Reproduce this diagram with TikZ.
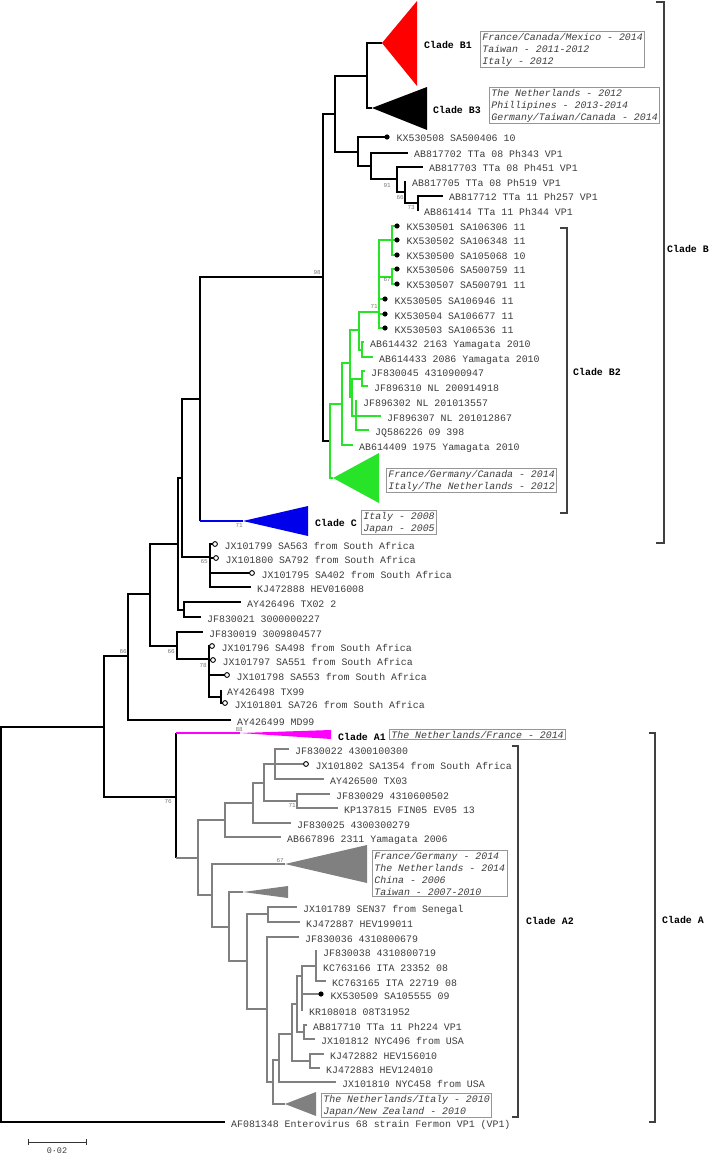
\documentclass[tikz,border=0pt]{standalone}
\usepackage{fontspec}
\setmonofont{Liberation Mono}
\usepackage{tikz}
\usetikzlibrary{positioning,calc}
\definecolor{cladered}{RGB}{255,0,0}
\definecolor{cladegreen}{RGB}{40,228,40}
\definecolor{cladeblue}{RGB}{0,0,235}
\definecolor{cladepink}{RGB}{255,0,255}
\definecolor{cladegray}{RGB}{128,128,128}
\definecolor{leafgray}{RGB}{60,60,60}
\definecolor{boxgray}{RGB}{150,150,150}
\definecolor{bootgray}{RGB}{120,120,120}

\begin{document}
\begin{tikzpicture}[x=1pt,y=-1pt,
  br/.style={line width=1.3pt, black},
  gbr/.style={line width=1.3pt, cladegreen},
  abr/.style={line width=1.3pt, cladegray},
  brk/.style={line width=1.1pt, black!75},
  leaf/.style={font=\ttfamily\fontsize{9.9}{12}\selectfont, text=leafgray, inner sep=0pt, text height=6pt, text depth=0pt, yshift=-2pt},
  clade/.style={font=\ttfamily\bfseries\fontsize{9.9}{12}\selectfont, inner sep=0pt, anchor=west, text height=6pt, text depth=0pt},
  box/.style={draw=boxgray, line width=0.8pt, font=\ttfamily\itshape\fontsize{9.9}{12}\selectfont, text=leafgray, align=left, inner xsep=2pt, inner ysep=1.5pt, anchor=north west},
  boot/.style={font=\ttfamily\fontsize{6}{7}\selectfont, text=bootgray, inner sep=0pt, anchor=east},
  odot/.style={draw=black, fill=white, line width=0.9pt}
]
\useasboundingbox (0,0) rectangle (709,1155);

\coordinate (root) at (1,925);
\coordinate (ingrp) at (104,727);
\coordinate (bc) at (128,656);
\coordinate (bcx) at (150,594);
\coordinate (bcy) at (178,544);
\coordinate (bcz) at (182,478);
\coordinate (bcc) at (200,399);
\coordinate (b98) at (323,277);
\coordinate (btop) at (335,114);
\coordinate (b13) at (367,76);
\coordinate (btta) at (358,152);
\coordinate (btta2) at (371,166);
\coordinate (btta3) at (397,179);
\coordinate (b66a) at (405,192);
\coordinate (b73) at (418,203);
\coordinate (b2root) at (330,441);
\coordinate (b2a) at (342,404);
\coordinate (b2b) at (350,363);
\coordinate (b2c) at (359,330);
\coordinate (b71) at (379,312);
\coordinate (b2t) at (392,240);
\coordinate (b67) at (392,277);
\coordinate (b2y) at (362,350);
\coordinate (b2d) at (352,397);
\coordinate (b2e) at (362,379);
\coordinate (b2f) at (356,416);
\coordinate (b65) at (210,557);
\coordinate (bay) at (184,610);
\coordinate (b66) at (177,646);
\coordinate (b78) at (209,659);
\coordinate (btx) at (221,697);
\coordinate (cladeA) at (176,797);
\coordinate (a2) at (198,858);
\coordinate (a2u) at (225,820);
\coordinate (a2w) at (253,803);
\coordinate (a2x) at (264,783);
\coordinate (a2g) at (275,764);
\coordinate (a71) at (297,801);
\coordinate (a2v) at (212,895);
\coordinate (a2s) at (229,927);
\coordinate (a2t) at (247,961);
\coordinate (a2sen) at (268,914);
\coordinate (a2j) at (267,1009);
\coordinate (a2k) at (273,1082);
\coordinate (a2m) at (279,1060);
\coordinate (a2n) at (292,1034);
\coordinate (a2o) at (297,1004);
\coordinate (a2p) at (302,976);
\coordinate (a2q) at (316,966);
\coordinate (a2ab) at (304,1032);
\coordinate (a2kj) at (310,1061);

\coordinate (b1apex) at (382,43);
\coordinate (b3apex) at (372,108);
\coordinate (b2apex) at (333,478);
\coordinate (capex) at (243,521);
\coordinate (a1apex) at (240,733);
\coordinate (a67apex) at (285,864);
\coordinate (asapex) at (243,892);
\coordinate (a2apex) at (285,1104);

\coordinate (t508) at (387,137);
\coordinate (t702) at (408,153);
\coordinate (t703) at (423,167);
\coordinate (t705) at (406,182);
\coordinate (t712) at (443,196);
\coordinate (t414) at (418,211);
\coordinate (t501) at (397,226);
\coordinate (t502) at (397,240);
\coordinate (t500) at (397,255);
\coordinate (t506) at (397,269);
\coordinate (t507) at (397,284);
\coordinate (t505) at (385,299);
\coordinate (t504) at (385,314);
\coordinate (t503) at (385,328);
\coordinate (t432) at (364,342);
\coordinate (t433) at (373,357);
\coordinate (t045) at (365,371);
\coordinate (t310) at (368,386);
\coordinate (t302) at (357,401);
\coordinate (t307) at (381,416);
\coordinate (t226) at (369,430);
\coordinate (t409) at (353,445);
\coordinate (t799) at (215,544);
\coordinate (t800) at (216,558);
\coordinate (t795) at (252,573);
\coordinate (t888) at (251,587);
\coordinate (t496) at (241,602);
\coordinate (t021) at (201,617);
\coordinate (t019) at (203,632);
\coordinate (t796) at (212,646);
\coordinate (t797) at (213,660);
\coordinate (t798) at (227,675);
\coordinate (t498) at (221,690);
\coordinate (t801) at (225,703);
\coordinate (tmd99) at (231,720);
\coordinate (taf) at (225,1122);
\coordinate (t022) at (289,749);
\coordinate (t802) at (306,764);
\coordinate (t500a) at (324,779);
\coordinate (t029) at (330,794);
\coordinate (t815) at (338,808);
\coordinate (t025) at (291,823);
\coordinate (t896) at (281,837);
\coordinate (t789) at (297,907);
\coordinate (t887) at (300,922);
\coordinate (t036) at (299,937);
\coordinate (t038) at (317,951);
\coordinate (t166) at (317,966);
\coordinate (t165) at (326,981);
\coordinate (t509) at (321,994);
\coordinate (t018) at (303,1010);
\coordinate (t710) at (307,1025);
\coordinate (t812) at (315,1039);
\coordinate (t882) at (324,1054);
\coordinate (t883) at (320,1068);
\coordinate (t810) at (336,1082);

\draw[br] (root) |- (ingrp) (root) |- (taf);
\draw[br] (ingrp) |- (bc) (ingrp) |- (cladeA);
\draw[br] (bc) |- (bcx) (bc) |- (tmd99);
\draw[br] (bcx) |- (bcy) (bcx) |- (b66);
\draw[br] (bcy) |- (bcz) (bcy) |- (bay);
\draw[br] (bcz) |- (bcc) (bcz) |- (b65);
\draw[br] (bcc) |- (b98) (bcc) -- (bcc |- capex);
\draw[br, cladeblue] (bcc |- capex) -- (capex);
\draw[br] (b98) |- (btop) (b98) |- (b2root);
\draw[br] (btop) |- (b13) (btop) |- (btta);
\draw[br] (b13) |- (b1apex) (b13) |- (b3apex);
\draw[br] (btta) |- (t508) (btta) |- (btta2);
\draw[br] (btta2) |- (t702) (btta2) |- (btta3);
\draw[br] (btta3) |- (t703) (btta3) |- (b66a);
\draw[br] (b66a) |- (t705) (b66a) |- (b73);
\draw[br] (b73) |- (t712) (b73) |- (t414);
\draw[br] (b65) |- (t799) (b65) |- (t800) (b65) |- (t795) (b65) |- (t888);
\draw[br] (bay) |- (t496) (bay) |- (t021);
\draw[br] (b66) |- (t019) (b66) |- (b78);
\draw[br] (b78) |- (t796) (b78) |- (t797) (b78) |- (t798) (b78) |- (btx);
\draw[br] (btx) |- (t498) (btx) |- (t801);

\draw[gbr] (b2root) |- (b2a) (b2root) |- (b2apex);
\draw[gbr] (b2a) |- (b2b) (b2a) |- (t409);
\draw[gbr] (b2b) |- (b2c) (b2b) |- (b2d);
\draw[gbr] (b2c) |- (b71) (b2c) |- (b2y);
\draw[gbr] (b71) |- (b2t) (b71) |- (b67) (b71) |- (t505) (b71) |- (t504) (b71) |- (t503);
\draw[gbr] (b2t) |- (t501) (b2t) |- (t502) (b2t) |- (t500);
\draw[gbr] (b67) |- (t506) (b67) |- (t507);
\draw[gbr] (b2y) |- (t432) (b2y) |- (t433);
\draw[gbr] (b2d) |- (b2e) (b2d) |- (b2f);
\draw[gbr] (b2e) |- (t045) (b2e) |- (t310);
\draw[gbr] (b2f) |- (t302) (b2f) |- (t307) (b2f) |- (t226);

\draw[br] (cladeA |- a1apex) -- (cladeA |- a2);
\draw[br, cladepink] (cladeA |- a1apex) -- (a1apex);
\draw[abr] (cladeA |- a2) -- (a2);
\draw[abr] (a2) |- (a2u) (a2) |- (a2v);
\draw[abr] (a2u) |- (a2w) (a2u) |- (t896);
\draw[abr] (a2w) |- (a2x) (a2w) |- (t025);
\draw[abr] (a2x) |- (a2g) (a2x) |- (a71);
\draw[abr] (a2g) |- (t022) (a2g) |- (t802) (a2g) |- (t500a);
\draw[abr] (a71) |- (t029) (a71) |- (t815);
\draw[abr] (a2v) |- (a67apex) (a2v) |- (a2s);
\draw[abr] (a2s) |- (asapex) (a2s) |- (a2t);
\draw[abr] (a2t) |- (a2sen) (a2t) |- (a2j);
\draw[abr] (a2sen) |- (t789) (a2sen) |- (t887);
\draw[abr] (a2j) |- (t036) (a2j) |- (a2k);
\draw[abr] (a2k) |- (a2m) (a2k) |- (a2apex);
\draw[abr] (a2m) |- (a2n) (a2m) |- (t810);
\draw[abr] (a2n) |- (a2o) (a2n) |- (a2kj);
\draw[abr] (a2o) |- (a2p) (a2o) |- (a2ab);
\draw[abr] (a2p) |- (a2q) (a2p) |- (t509) (a2p) |- (t018);
\draw[abr] (a2q) |- (t038) (a2q) |- (t166) (a2q) |- (t165);
\draw[abr] (a2ab) |- (t710) (a2ab) |- (t812);
\draw[abr] (a2kj) |- (t882) (a2kj) |- (t883);

\fill[cladered] (b1apex) -- (417,1) -- (417,86) -- cycle;
\fill[black] (b3apex) -- (427,87) -- (427,130) -- cycle;
\fill[cladegreen] (b2apex) -- (379,453) -- (379,503) -- cycle;
\fill[cladeblue] (capex) -- (308,506) -- (308,536) -- cycle;
\fill[cladepink] (a1apex) -- (331,730) -- (331,739) -- cycle;
\fill[cladegray] (a67apex) -- (367,845) -- (367,883) -- cycle;
\fill[cladegray] (asapex) -- (288,886) -- (288,898) -- cycle;
\fill[cladegray] (a2apex) -- (316,1092) -- (316,1116) -- cycle;

\fill (t508) circle (2.6) (t501) circle (2.6) (t502) circle (2.6) (t500) circle (2.6)
  (t506) circle (2.6) (t507) circle (2.6) (t505) circle (2.6) (t504) circle (2.6)
  (t503) circle (2.6) (t509) circle (2.6);
\draw[odot] (t799) circle (2.4) (t800) circle (2.4) (t795) circle (2.4) (t796) circle (2.4)
  (t797) circle (2.4) (t798) circle (2.4) (t801) circle (2.4) (t802) circle (2.4);

\node[leaf, right=9.5pt of t508] (l508) {KX530508 SA500406 10};
\node[leaf, right=6pt of t702] (l702) {AB817702 TTa 08 Ph343 VP1};
\node[leaf, right=6pt of t703] (l703) {AB817703 TTa 08 Ph451 VP1};
\node[leaf, right=6pt of t705] (l705) {AB817705 TTa 08 Ph519 VP1};
\node[leaf, right=6pt of t712] (l712) {AB817712 TTa 11 Ph257 VP1};
\node[leaf, right=6pt of t414] (l414) {AB861414 TTa 11 Ph344 VP1};
\node[leaf, right=9.5pt of t501] (l501) {KX530501 SA106306 11};
\node[leaf, right=9.5pt of t502] (l502) {KX530502 SA106348 11};
\node[leaf, right=9.5pt of t500] (l500) {KX530500 SA105068 10};
\node[leaf, right=9.5pt of t506] (l506) {KX530506 SA500759 11};
\node[leaf, right=9.5pt of t507] (l507) {KX530507 SA500791 11};
\node[leaf, right=9.5pt of t505] (l505) {KX530505 SA106946 11};
\node[leaf, right=9.5pt of t504] (l504) {KX530504 SA106677 11};
\node[leaf, right=9.5pt of t503] (l503) {KX530503 SA106536 11};
\node[leaf, right=6pt of t432] (l432) {AB614432 2163 Yamagata 2010};
\node[leaf, right=6pt of t433] (l433) {AB614433 2086 Yamagata 2010};
\node[leaf, right=6pt of t045] (l045) {JF830045 4310900947};
\node[leaf, right=6pt of t310] (l310) {JF896310 NL 200914918};
\node[leaf, right=6pt of t302] (l302) {JF896302 NL 201013557};
\node[leaf, right=6pt of t307] (l307) {JF896307 NL 201012867};
\node[leaf, right=6pt of t226] (l226) {JQ586226 09 398};
\node[leaf, right=6pt of t409] (l409) {AB614409 1975 Yamagata 2010};
\node[leaf, right=9.5pt of t799] (l799) {JX101799 SA563 from South Africa};
\node[leaf, right=9.5pt of t800] (l800) {JX101800 SA792 from South Africa};
\node[leaf, right=9.5pt of t795] (l795) {JX101795 SA402 from South Africa};
\node[leaf, right=6pt of t888] (l888) {KJ472888 HEV016008};
\node[leaf, right=6pt of t496] (l496) {AY426496 TX02 2};
\node[leaf, right=6pt of t021] (l021) {JF830021 3000000227};
\node[leaf, right=6pt of t019] (l019) {JF830019 3009804577};
\node[leaf, right=9.5pt of t796] (l796) {JX101796 SA498 from South Africa};
\node[leaf, right=9.5pt of t797] (l797) {JX101797 SA551 from South Africa};
\node[leaf, right=9.5pt of t798] (l798) {JX101798 SA553 from South Africa};
\node[leaf, right=6pt of t498] (l498) {AY426498 TX99};
\node[leaf, right=9.5pt of t801] (l801) {JX101801 SA726 from South Africa};
\node[leaf, right=6pt of tmd99] (lmd99) {AY426499 MD99};
\node[leaf, right=6pt of t022] (l022) {JF830022 4300100300};
\node[leaf, right=9.5pt of t802] (l802) {JX101802 SA1354 from South Africa};
\node[leaf, right=6pt of t500a] (l500a) {AY426500 TX03};
\node[leaf, right=6pt of t029] (l029) {JF830029 4310600502};
\node[leaf, right=6pt of t815] (l815) {KP137815 FIN05 EV05 13};
\node[leaf, right=6pt of t025] (l025) {JF830025 4300300279};
\node[leaf, right=6pt of t896] (l896) {AB667896 2311 Yamagata 2006};
\node[leaf, right=6pt of t789] (l789) {JX101789 SEN37 from Senegal};
\node[leaf, right=6pt of t887] (l887) {KJ472887 HEV199011};
\node[leaf, right=6pt of t036] (l036) {JF830036 4310800679};
\node[leaf, right=6pt of t038] (l038) {JF830038 4310800719};
\node[leaf, right=6pt of t166] (l166) {KC763166 ITA 23352 08};
\node[leaf, right=6pt of t165] (l165) {KC763165 ITA 22719 08};
\node[leaf, right=9.5pt of t509] (l509) {KX530509 SA105555 09};
\node[leaf, right=6pt of t018] (l018) {KR108018 08T31952};
\node[leaf, right=6pt of t710] (l710) {AB817710 TTa 11 Ph224 VP1};
\node[leaf, right=6pt of t812] (l812) {JX101812 NYC496 from USA};
\node[leaf, right=6pt of t882] (l882) {KJ472882 HEV156010};
\node[leaf, right=6pt of t883] (l883) {KJ472883 HEV124010};
\node[leaf, right=6pt of t810] (l810) {JX101810 NYC458 from USA};
\node[leaf, right=6pt of taf] (laf) {AF081348 Enterovirus 68 strain Fermon VP1 (VP1)};

\node[boot] (bs98) at (321,273) {98};
\node[boot] (bs91) at (391,186) {91};
\node[boot] (bs66a) at (404,198) {66};
\node[boot] (bs73) at (415,208) {73};
\node[boot] (bs67) at (391,280) {67};
\node[boot] (bs71) at (378,307) {71};
\node[boot] (bs71c) at (243,526) {71};
\node[boot] (bs65) at (208,562) {65};
\node[boot] (bs66b) at (175,652) {66};
\node[boot] (bs66c) at (127,652) {66};
\node[boot] (bs78) at (207,666) {78};
\node[boot] (bs88) at (243,730) {88};
\node[boot] (bs76) at (172,802) {76};
\node[boot] (bs71a) at (296,806) {71};
\node[boot] (bs67a) at (284,861) {67};

\node[clade] (cb1) at (424,46) {Clade B1};
\node[clade] (cb3) at (433,111) {Clade B3};
\node[clade] (cc) at (315,523) {Clade C};
\node[clade] (ca1) at (338,737) {Clade A1};
\node[clade] (cb2) at (573,372) {Clade B2};
\node[clade] (cb) at (667,250) {Clade B};
\node[clade] (ca2) at (526,921) {Clade A2};
\node[clade] (ca) at (662,920) {Clade A};

\node[box] (bxb1) at (480,31) {France/Canada/Mexico - 2014\\Taiwan - 2011-2012\\Italy - 2012};
\node[box] (bxb3) at (489,87) {The Netherlands - 2012\\Phillipines - 2013-2014\\Germany/Taiwan/Canada - 2014};
\node[box] (bxb2) at (386,468) {France/Germany/Canada - 2014\\Italy/The Netherlands - 2012};
\node[box] (bxc) at (361,510) {Italy - 2008\\Japan - 2005};
\node[box] (bxa1) at (389,729) {The Netherlands/France - 2014};
\node[box] (bxa2) at (372,850) {France/Germany - 2014\\The Netherlands - 2014\\China - 2006\\Taiwan - 2007-2010};
\node[box] (bxa3) at (321,1093) {The Netherlands/Italy - 2010\\Japan/New Zealand - 2010};

\draw[brk] (656,2) -- (664,2) -- (664,543) -- (656,543);
\draw[brk] (560,228) -- (567,228) -- (567,513) -- (560,513);
\draw[brk] (649,733) -- (655,733) -- (655,1122) -- (649,1122);
\draw[brk] (512,746) -- (518,746) -- (518,1117) -- (512,1117);

\coordinate (sbl) at (28,1142);
\coordinate (sbr) at (86,1142);
\draw[line width=1pt, black!80] (sbl) -- (sbr) ($(sbl)+(0,-3)$) -- ($(sbl)+(0,3)$) ($(sbr)+(0,-3)$) -- ($(sbr)+(0,3)$);
\node[font=\ttfamily\fontsize{8.5}{10}\selectfont, text=leafgray, inner sep=0pt] (sblab) at (57,1151) {0·02};
\end{tikzpicture}
\end{document}
